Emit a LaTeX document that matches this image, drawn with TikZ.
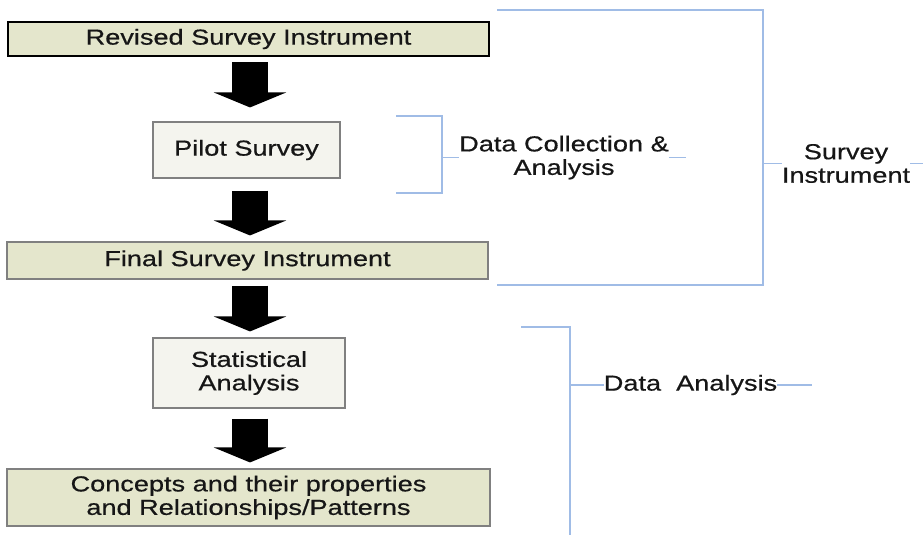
\documentclass[tikz,border=0pt]{standalone}
\usepackage{fontspec}
\setmainfont[FakeStretch=1.25, FakeBold=0.6]{Liberation Sans}
\usetikzlibrary{arrows.meta}

\definecolor{olivefill}{RGB}{228,230,204}
\definecolor{palefill}{RGB}{244,244,238}
\definecolor{boxline}{RGB}{128,128,128}
\definecolor{bracketblue}{RGB}{160,188,230}
\definecolor{ink}{RGB}{22,22,22}

\tikzset{
  every node/.style={font=\fontsize{21.7}{23.5}\selectfont, text=ink, align=center, inner sep=0pt},
  stagebox/.style={draw=boxline, line width=1.1pt, fill=olivefill},
  stepbox/.style={draw=boxline, line width=1.1pt, fill=palefill},
  blockarrow/.style={draw=black, line width=36pt, line cap=butt,
    -{Triangle[length=15pt 0 0, width=72pt 0 0]}},
  bracket/.style={draw=bracketblue, line width=1.3pt}
}

\begin{document}
\begin{tikzpicture}[x=1pt, y=-1pt]
  \fill[white] (0,0) rectangle (923,535);
  \useasboundingbox (0,0) rectangle (923,535);

  % flow of stages
  \node[stagebox, draw=black, line width=2.4pt, minimum width=481pt, minimum height=34pt]
    (revised) at (248.5,39) {Revised Survey Instrument};
  \node[stepbox, minimum width=187pt, minimum height=56pt]
    (pilot) at (246.5,150) {Pilot Survey};
  \node[stagebox, minimum width=481pt, minimum height=37pt]
    (final) at (247.5,260.5) {Final Survey Instrument};
  \node[stepbox, minimum width=192pt, minimum height=70pt]
    (stats) at (249,373) {Statistical\\Analysis};
  \node[stagebox, minimum width=483pt, minimum height=57pt]
    (concepts) at (248.5,497.5) {Concepts and their properties\\and Relationships/Patterns};

  % block arrows between stages
  \coordinate (axis) at (250,0);
  \draw[blockarrow, shorten <=5pt,  shorten >=14pt] (revised.south -| axis) -- (pilot.north -| axis);
  \draw[blockarrow, shorten <=12pt, shorten >=6pt]  (pilot.south -| axis)   -- (final.north -| axis);
  \draw[blockarrow, shorten <=6pt,  shorten >=6pt]  (final.south -| axis)   -- (stats.north -| axis);
  \draw[blockarrow, shorten <=10pt, shorten >=6pt]  (stats.south -| axis)   -- (concepts.north -| axis);

  % bracket: survey instrument
  \node (survey) at (846,163.5) {Survey\\Instrument};
  \coordinate (siTL) at (497,10);
  \coordinate (siTR) at (763,10);
  \coordinate (siBR) at (763,285);
  \coordinate (siBL) at (497,285);
  \coordinate (siMid) at (763,163.5);
  \coordinate (siEnd) at (923,163.5);
  \draw[bracket] (siTL) -- (siTR) -- (siBR) -- (siBL);
  \draw[bracket] (siMid) -- (survey.west);
  \draw[bracket] (survey.east) -- (siEnd);

  % bracket: data collection and analysis
  \node (collect) at (564,157.5) {Data Collection \&\\Analysis};
  \coordinate (dcTL) at (396,116);
  \coordinate (dcTR) at (442,116);
  \coordinate (dcBR) at (442,193);
  \coordinate (dcBL) at (396,193);
  \coordinate (dcMid) at (442,157.5);
  \coordinate (dcEnd) at (686,157.5);
  \draw[bracket] (dcTL) -- (dcTR) -- (dcBR) -- (dcBL);
  \draw[bracket] (dcMid) -- (collect.west);
  \draw[bracket] (collect.east) -- (dcEnd);

  % bracket: data analysis
  \node (analysis) at (690.5,385) {Data\ \ Analysis};
  \coordinate (daTL) at (521,327);
  \coordinate (daTR) at (570,327);
  \coordinate (daBot) at (570,536);
  \coordinate (daMid) at (570,385);
  \coordinate (daEnd) at (812,385);
  \draw[bracket] (daTL) -- (daTR) -- (daBot);
  \draw[bracket] (daMid) -- (analysis.west);
  \draw[bracket] (analysis.east) -- (daEnd);
\end{tikzpicture}
\end{document}
